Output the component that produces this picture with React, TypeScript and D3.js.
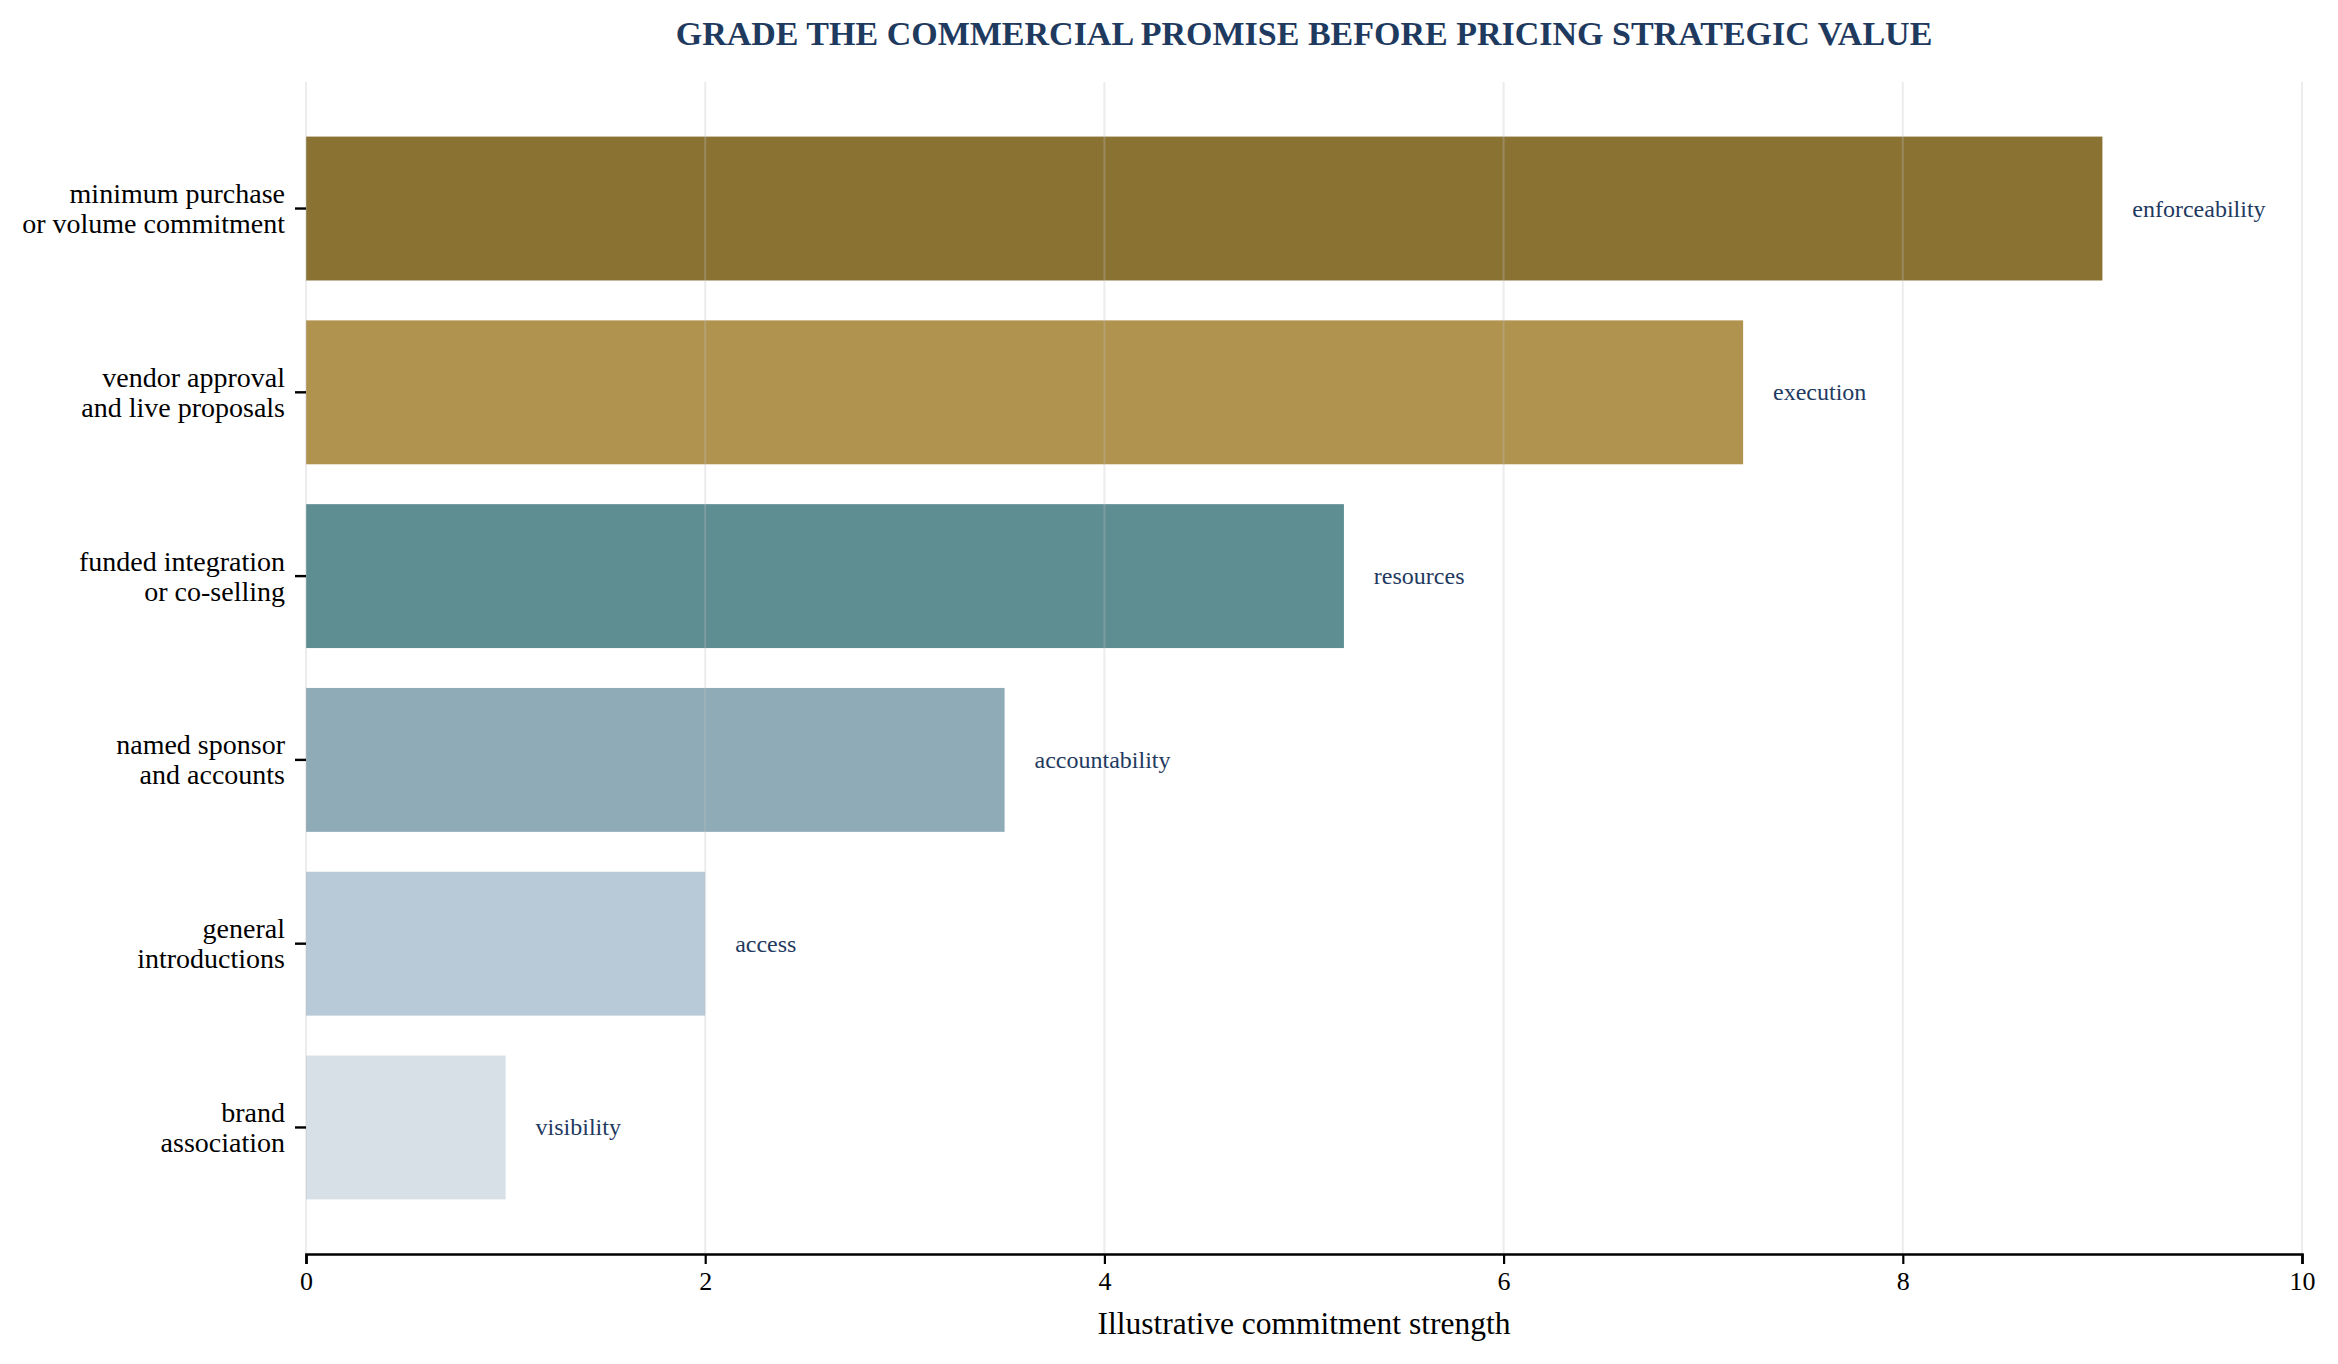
import React, { useEffect, useRef } from 'react';
import * as d3 from 'd3';

const categories = [
  'minimum purchase\nor volume commitment',
  'vendor approval\nand live proposals',
  'funded integration\nor co-selling',
  'named sponsor\nand accounts',
  'general\nintroductions',
  'brand\nassociation',
];
const strengths = [9.0, 7.2, 5.2, 3.5, 2.0, 1.0];
const drivers = ['enforceability', 'execution', 'resources', 'accountability', 'access', 'visibility'];
const barColors = ['#8a7233', '#b0934e', '#5e8d92', '#8fabb7', '#b8cad7', '#d8e0e7'];
const xTicks = [0, 2, 4, 6, 8, 10];

const WIDTH = 2338;
const HEIGHT = 1364;
const FONT = '"Liberation Serif", "Times New Roman", Times, serif';

export default function App() {
  const svgRef = useRef<SVGSVGElement>(null);

  useEffect(() => {
    document.body.style.margin = '0';
    if (!svgRef.current) return;

    const margin = { top: 82, right: 36, bottom: 110, left: 306 };
    const svg = d3.select(svgRef.current);
    svg.selectAll('*').remove();
    svg.attr('width', WIDTH).attr('height', HEIGHT).style('background', '#fff');

    const x = d3.scaleLinear().domain([0, 10]).range([margin.left, WIDTH - margin.right]);
    const y = d3
      .scaleBand<number>()
      .domain(d3.range(categories.length))
      .range([margin.top, HEIGHT - margin.bottom])
      .paddingInner(0.217)
      .paddingOuter(0.297);

    const bottom = HEIGHT - margin.bottom;

    // bars
    svg
      .append('g')
      .selectAll('rect')
      .data(strengths)
      .enter()
      .append('rect')
      .attr('x', x(0))
      .attr('y', (_, i) => y(i)!)
      .attr('width', (d) => x(d) - x(0))
      .attr('height', y.bandwidth())
      .attr('fill', (_, i) => barColors[i]);

    // grid sits on top of the bars, faint
    svg
      .append('g')
      .selectAll('line')
      .data(xTicks)
      .enter()
      .append('line')
      .attr('x1', (d) => x(d))
      .attr('x2', (d) => x(d))
      .attr('y1', margin.top)
      .attr('y2', bottom)
      .attr('stroke', '#bfbfbf')
      .attr('stroke-opacity', 0.3)
      .attr('stroke-width', 2);

    // bar labels
    svg
      .append('g')
      .selectAll('text')
      .data(strengths)
      .enter()
      .append('text')
      .attr('x', (d) => x(d + 0.15))
      .attr('y', (_, i) => y(i)! + y.bandwidth() / 2)
      .attr('dominant-baseline', 'central')
      .attr('font-family', FONT)
      .attr('font-size', 24)
      .attr('fill', '#1f3a5f')
      .text((_, i) => drivers[i]);

    // y ticks + labels
    const yg = svg.append('g');
    categories.forEach((c, i) => {
      const cy = y(i)! + y.bandwidth() / 2;
      yg.append('line')
        .attr('x1', margin.left - 11)
        .attr('x2', margin.left)
        .attr('y1', cy)
        .attr('y2', cy)
        .attr('stroke', '#000')
        .attr('stroke-width', 2.4);
      const lines = c.split('\n');
      const t = yg
        .append('text')
        .attr('text-anchor', 'end')
        .attr('font-family', FONT)
        .attr('font-size', 28)
        .attr('fill', '#000');
      lines.forEach((ln, j) => {
        t.append('tspan')
          .attr('x', margin.left - 21)
          .attr('y', cy + (j - (lines.length - 1) / 2) * 30)
          .attr('dominant-baseline', 'central')
          .text(ln);
      });
    });

    // x axis
    const xAxis = svg
      .append('g')
      .attr('transform', `translate(0,${bottom})`)
      .call(d3.axisBottom(x).tickValues(xTicks).tickSize(10).tickPadding(8).tickFormat(d3.format('d')));
    xAxis.select('.domain').attr('stroke', '#000').attr('stroke-width', 2.6);
    xAxis.selectAll('.tick line').attr('stroke', '#000').attr('stroke-width', 2.2);
    xAxis.selectAll('.tick text').attr('font-family', FONT).attr('font-size', 26).attr('fill', '#000');

    svg
      .append('text')
      .attr('x', (x(0) + x(10)) / 2)
      .attr('y', 1334)
      .attr('text-anchor', 'middle')
      .attr('font-family', FONT)
      .attr('font-size', 31.5)
      .attr('fill', '#000')
      .text('Illustrative commitment strength');

    svg
      .append('text')
      .attr('x', (x(0) + x(10)) / 2)
      .attr('y', 45)
      .attr('text-anchor', 'middle')
      .attr('font-family', FONT)
      .attr('font-size', 34)
      .attr('font-weight', 700)
      .attr('fill', '#1f3a5f')
      .text('GRADE THE COMMERCIAL PROMISE BEFORE PRICING STRATEGIC VALUE');
  }, []);

  return <svg ref={svgRef} style={{ display: 'block' }} />;
}
